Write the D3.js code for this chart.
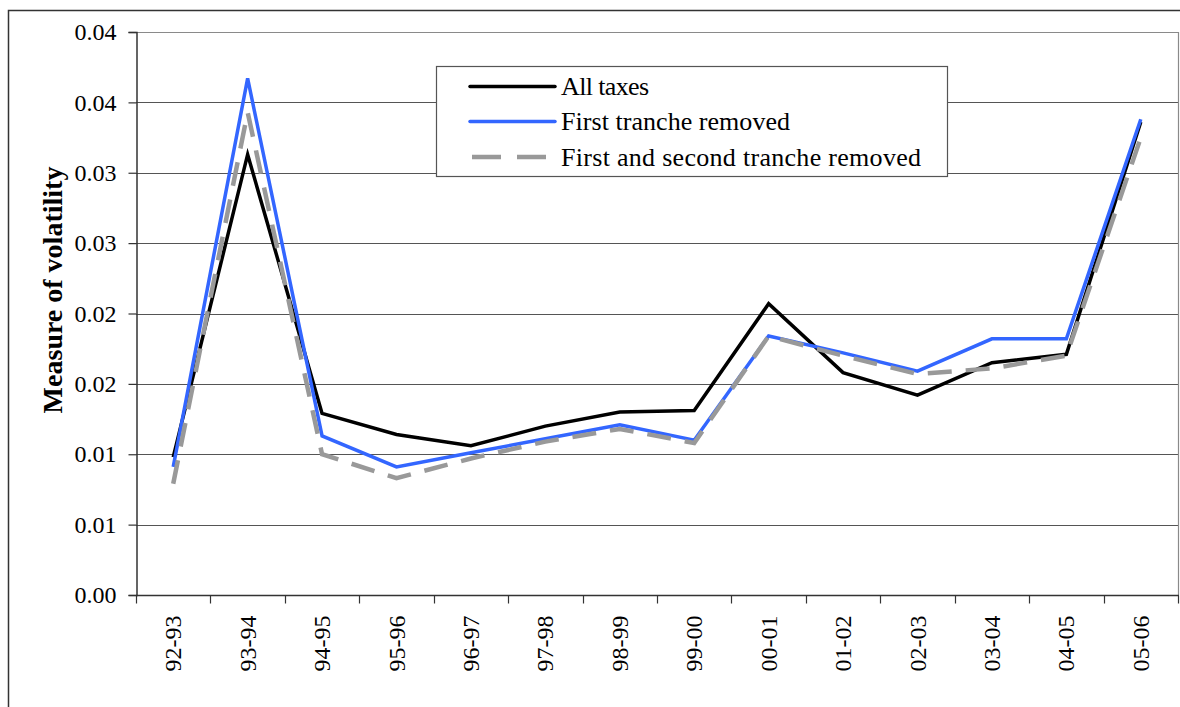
<!DOCTYPE html>
<html>
<head>
<meta charset="utf-8">
<script src="https://cdn.jsdelivr.net/npm/d3@7"></script>
<style>
  html, body { margin: 0; padding: 0; background: #fff; }
  svg { display: block; }
  text { font-family: "Liberation Serif", "Times New Roman", Times, serif; fill: #000; }
</style>
</head>
<body>
<svg id="chart" width="1180" height="707"></svg>
<script>
// Fiscal years on the category axis
const categories = ["92-93","93-94","94-95","95-96","96-97","97-98","98-99","99-00","00-01","01-02","02-03","03-04","04-05","05-06"];

// Volatility measure per year, one array per series
const allTaxes           = [0.0098, 0.0313, 0.0129, 0.0114, 0.0106, 0.0120, 0.0130, 0.0131, 0.0207, 0.0158, 0.0142, 0.0165, 0.0171, 0.0336];
const firstRemoved       = [0.0091, 0.0367, 0.0113, 0.0091, 0.0101, 0.0111, 0.0121, 0.0110, 0.0184, 0.0172, 0.0159, 0.0182, 0.0182, 0.0338];
const firstSecondRemoved = [0.0079, 0.0343, 0.0100, 0.0083, 0.0097, 0.0109, 0.0118, 0.0108, 0.0184, 0.0170, 0.0157, 0.0161, 0.0170, 0.0325];

// Value axis ticks and their printed labels (two decimals)
const yTickValues = [0, 0.005, 0.01, 0.015, 0.02, 0.025, 0.03, 0.035, 0.04];
const yTickLabels = ["0.00","0.01","0.01","0.02","0.02","0.03","0.03","0.04","0.04"];

const seriesNames = ["All taxes", "First tranche removed", "First and second tranche removed"];

const serif = "Liberation Serif, Times New Roman, serif";
const svg = d3.select("#chart");

const plot = { left: 136, right: 1178, top: 32, bottom: 595 };

const x = d3.scaleBand().domain(categories).range([plot.left, plot.right]);
const y = d3.scaleLinear().domain([0, 0.04]).range([plot.bottom, plot.top]);

// Outer chart frame (only top and left edges fall inside the page)
svg.append("path")
  .attr("d", "M8.5,707 L8.5,10.5 L1180,10.5")
  .attr("fill", "none").attr("stroke", "#333").attr("stroke-width", 1.5);

// Horizontal gridlines
svg.append("g")
  .selectAll("line")
  .data(yTickValues.filter(v => v > 0 && v < 0.04))
  .join("line")
  .attr("x1", plot.left).attr("x2", plot.right)
  .attr("y1", d => Math.round(y(d)) + 0.5).attr("y2", d => Math.round(y(d)) + 0.5)
  .attr("stroke", "#555").attr("stroke-width", 1);

// Plot area border on top and right
svg.append("path")
  .attr("d", `M${plot.left},${plot.top + 0.5} L${plot.right + 0.5},${plot.top + 0.5} L${plot.right + 0.5},${plot.bottom}`)
  .attr("fill", "none").attr("stroke", "#8a8a8a").attr("stroke-width", 1.2);

// Y axis
const yAxis = d3.axisLeft(y)
  .tickValues(yTickValues)
  .tickFormat((d, i) => yTickLabels[i])
  .tickSize(8)
  .tickPadding(12);
const gy = svg.append("g")
  .attr("transform", `translate(${plot.left + 0.5},0)`)
  .call(yAxis);
gy.attr("font-family", serif);
gy.select(".domain").attr("stroke", "#333").attr("stroke-width", 1.5);
gy.selectAll(".tick line").attr("stroke", "#333").attr("stroke-width", 1.2);
gy.selectAll(".tick text")
  .attr("font-size", 24)
  .attr("font-family", serif)
  .attr("fill", "#000");

// X axis: ticks sit on category boundaries, labels rotated
const gx = svg.append("g").attr("transform", `translate(0,${plot.bottom + 0.5})`);
gx.append("line")
  .attr("x1", plot.left).attr("x2", plot.right + 1)
  .attr("stroke", "#333").attr("stroke-width", 1.5);
const boundaries = categories.map(c => x(c)).concat([plot.right]);
gx.selectAll("line.tick")
  .data(boundaries)
  .join("line")
  .attr("class", "tick")
  .attr("x1", d => Math.round(d) + 0.5).attr("x2", d => Math.round(d) + 0.5)
  .attr("y1", 0).attr("y2", 8)
  .attr("stroke", "#333").attr("stroke-width", 1.2);
gx.selectAll("text")
  .data(categories)
  .join("text")
  .attr("transform", d => `translate(${x(d) + x.bandwidth() / 2},20) rotate(-90)`)
  .attr("text-anchor", "end")
  .attr("dominant-baseline", "central")
  .attr("font-family", serif)
  .attr("font-size", 24)
  .text(d => d);

// Y axis title
svg.append("text")
  .attr("transform", "translate(52,290) rotate(-90)")
  .attr("text-anchor", "middle")
  .attr("dominant-baseline", "central")
  .attr("font-family", serif)
  .attr("font-size", 28)
  .attr("font-weight", "bold")
  .text("Measure of volatility");

// Series lines
const line = d3.line()
  .x((d, i) => x(categories[i]) + x.bandwidth() / 2)
  .y(d => y(d));

const seriesStyles = [
  { data: allTaxes,           color: "#000000", width: 3.5, dash: null },
  { data: firstRemoved,       color: "#3366ff", width: 3.5, dash: null },
  { data: firstSecondRemoved, color: "#999999", width: 4.5, dash: "24,14" }
];

seriesStyles.forEach(s => {
  svg.append("path")
    .datum(s.data)
    .attr("d", line)
    .attr("fill", "none")
    .attr("stroke", s.color)
    .attr("stroke-width", s.width)
    .attr("stroke-linejoin", "miter")
    .attr("stroke-dasharray", s.dash);
});

// Legend
const legend = svg.append("g");
legend.append("rect")
  .attr("x", 436.5).attr("y", 66.5)
  .attr("width", 511).attr("height", 110)
  .attr("fill", "#fff").attr("stroke", "#555").attr("stroke-width", 1.2);

const legendRows = [86.5, 121.5, 157];
const legendTextWidths = [88, 229, 360];
seriesStyles.forEach((s, i) => {
  legend.append("line")
    .attr("x1", s.dash ? 472 : 470).attr("x2", 555)
    .attr("y1", legendRows[i]).attr("y2", legendRows[i])
    .attr("stroke", s.color)
    .attr("stroke-width", s.width)
    .attr("stroke-linecap", s.dash ? "butt" : "round")
    .attr("stroke-dasharray", s.dash ? "29,16" : null);
  legend.append("text")
    .attr("x", 561).attr("y", legendRows[i])
    .attr("dominant-baseline", "central")
    .attr("font-family", serif)
    .attr("font-size", 26)
    .attr("textLength", legendTextWidths[i])
    .attr("lengthAdjust", "spacing")
    .text(seriesNames[i]);
});
</script>
</body>
</html>
